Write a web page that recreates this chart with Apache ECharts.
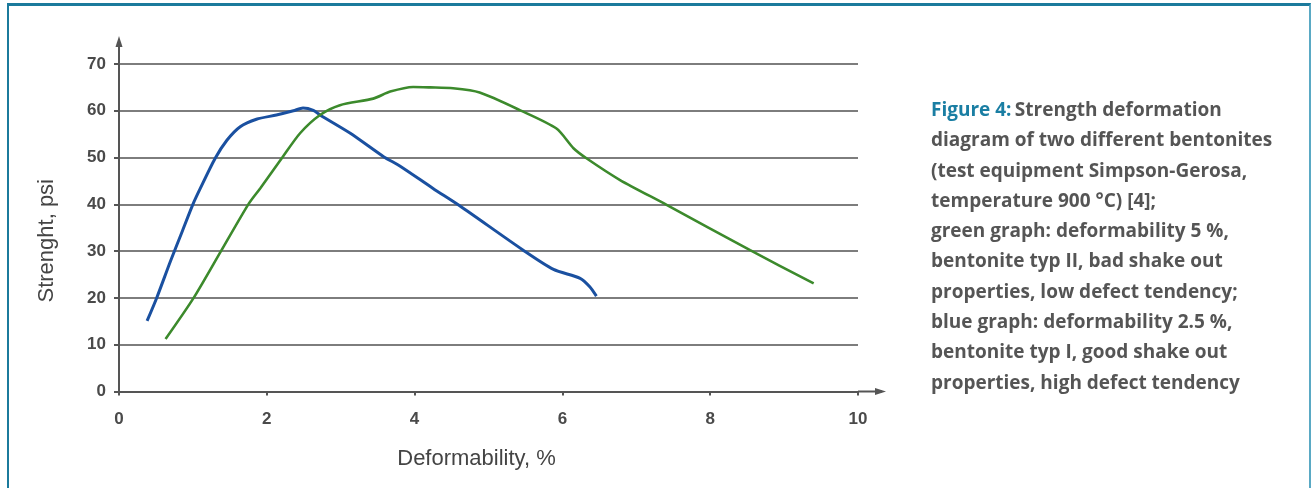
<!DOCTYPE html>
<html>
<head>
<meta charset="utf-8">
<script src="https://cdn.jsdelivr.net/npm/echarts@6/dist/echarts.min.js"></script>
<style>
  html, body { margin: 0; padding: 0; background: #fff; }
  #frame { position: absolute; left: 7px; top: 3px; width: 1300px; height: 490px;
           border-left: 2px solid #1b7a9c; border-top: 3px solid #1b7a9c; border-right: 2px solid #5aa9c4; }
  #chart { position: absolute; left: 0; top: 0; width: 1311px; height: 488px; }
</style>
</head>
<body>
<div id="frame"></div>
<div id="chart"></div>
<script>
// Deformability (%) / strength (psi) pairs for the two bentonites
const blueX = [0.38, 0.51, 0.70, 0.85, 1.00, 1.10, 1.30, 1.46, 1.64, 1.86, 2.13, 2.36, 2.49, 2.63, 2.72, 3.13, 3.58, 3.80, 4.25, 4.61, 5.47, 5.88, 6.24, 6.37, 6.46];
const blueY = [15.1, 20.0, 28.0, 34.0, 40.0, 43.4, 49.8, 53.7, 56.6, 58.2, 59.1, 60.0, 60.6, 60.1, 59.1, 55.2, 50.2, 48.2, 43.4, 39.7, 30.2, 26.1, 24.2, 22.4, 20.4];
const greenX = [0.63, 1.01, 1.38, 1.75, 1.91, 2.20, 2.45, 2.72, 2.99, 3.44, 3.67, 3.98, 4.21, 4.52, 4.88, 5.43, 5.92, 6.15, 6.33, 6.78, 7.41, 8.54, 9.40];
const greenY = [11.2, 20.0, 30.0, 40.0, 43.4, 49.8, 55.2, 59.1, 61.2, 62.6, 64.1, 65.1, 65.0, 64.8, 63.9, 60.1, 56.2, 52.0, 49.8, 45.2, 39.9, 30.2, 23.1];

const xTicks = [0, 2, 4, 6, 8, 10];
const yTicks = [0, 10, 20, 30, 40, 50, 60, 70];

const captionTitle = 'Figure 4:';
const captionLines = [
  'Strength deformation',
  'diagram of two different bentonites',
  '(test equipment Simpson-Gerosa,',
  'temperature 900 °C) [4];',
  'green graph: deformability 5 %,',
  'bentonite typ II, bad shake out',
  'properties, low defect tendency;',
  'blue graph: deformability 2.5 %,',
  'bentonite typ I, good shake out',
  'properties, high defect tendency'
];

const zip = (xs, ys) => xs.map((x, i) => [x, ys[i]]);
const axisColor = '#555';
const sans = 'Liberation Sans, Arial, sans-serif';
const labelFont = { color: '#4a4a4a', fontSize: 17, fontWeight: 'bold', fontFamily: sans };
const captionFont = 'bold 19px "Open Sans", sans-serif';

const chart = echarts.init(document.getElementById('chart'));

// Caption block to the right of the plot
const captionTexts = [];
const lineGap = 30.3;
const captionTop = 101;
captionTexts.push({
  type: 'text', left: 931, top: captionTop,
  style: {
    text: '{t|' + captionTitle + '} {b|' + captionLines[0] + '}',
    rich: {
      t: { fill: '#1a7ea3', font: captionFont },
      b: { fill: '#555', font: captionFont }
    }
  }
});
for (let i = 1; i < captionLines.length; i++) {
  captionTexts.push({
    type: 'text', left: 931, top: captionTop + i * lineGap,
    style: { text: captionLines[i], fill: '#555', font: captionFont }
  });
}

chart.setOption({
  animation: false,
  grid: { left: 119, right: 453, top: 64, bottom: 96.5 },
  xAxis: {
    type: 'value', min: 0, max: 10, interval: 2,
    name: 'Deformability, %', nameLocation: 'middle', nameGap: 56,
    nameTextStyle: { color: '#444', fontSize: 22, fontFamily: sans, padding: [0, 24, 0, 0] },
    axisLine: { show: true, onZero: false, lineStyle: { color: axisColor, width: 2 } },
    axisTick: { show: true, length: 4, lineStyle: { color: axisColor, width: 2 } },
    axisLabel: Object.assign({ margin: 19, formatter: v => xTicks.includes(v) ? String(v) : '' }, labelFont),
    splitLine: { show: false }
  },
  yAxis: {
    type: 'value', min: 0, max: 70, interval: 10,
    name: 'Strenght, psi', nameLocation: 'middle', nameGap: 61, nameRotate: 90,
    nameTextStyle: { color: '#444', fontSize: 22, fontFamily: sans, padding: [0, 26, 0, 0] },
    axisLine: { show: true, lineStyle: { color: axisColor, width: 2 } },
    axisTick: { show: true, length: 5, lineStyle: { color: axisColor, width: 2 } },
    axisLabel: Object.assign({ margin: 13, formatter: v => yTicks.includes(v) ? String(v) : '' }, labelFont),
    splitLine: { show: true, lineStyle: { color: '#7d7d7d', width: 2 } }
  },
  series: [
    {
      name: 'bentonite typ I', type: 'line', data: zip(blueX, blueY),
      smooth: 0.25, symbol: 'none',
      lineStyle: { color: '#1a50a0', width: 3 }
    },
    {
      name: 'bentonite typ II', type: 'line', data: zip(greenX, greenY),
      smooth: 0.25, symbol: 'none',
      lineStyle: { color: '#3c8a2c', width: 2.6 }
    }
  ],
  graphic: captionTexts
});

// Axis arrows extending past the plotted range
const xEnd = chart.convertToPixel({ gridIndex: 0 }, [10, 0]);
const yEnd = chart.convertToPixel({ gridIndex: 0 }, [0, 70]);
const ext = 24;
const arrowStyle = { fill: axisColor };
const lineStyle = { stroke: axisColor, lineWidth: 2 };
chart.setOption({
  graphic: captionTexts.concat([
    { type: 'line', shape: { x1: xEnd[0], y1: xEnd[1], x2: xEnd[0] + ext, y2: xEnd[1] }, style: lineStyle },
    { type: 'polygon', shape: { points: [[xEnd[0] + ext + 4, xEnd[1]], [xEnd[0] + ext - 7, xEnd[1] - 3.5], [xEnd[0] + ext - 7, xEnd[1] + 3.5]] }, style: arrowStyle },
    { type: 'line', shape: { x1: yEnd[0], y1: yEnd[1], x2: yEnd[0], y2: yEnd[1] - ext }, style: lineStyle },
    { type: 'polygon', shape: { points: [[yEnd[0], yEnd[1] - ext - 4], [yEnd[0] - 3.5, yEnd[1] - ext + 7], [yEnd[0] + 3.5, yEnd[1] - ext + 7]] }, style: arrowStyle }
  ])
});
</script>
</body>
</html>
